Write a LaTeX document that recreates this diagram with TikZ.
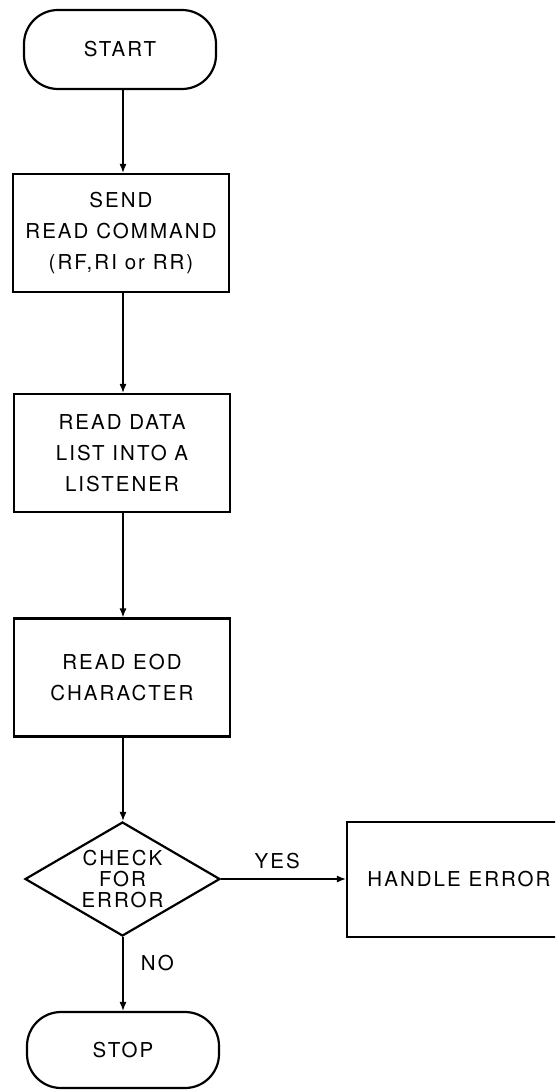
\documentclass[tikz,border=0pt]{standalone}
\usepackage{fontspec}
\usetikzlibrary{shapes.geometric,arrows.meta}
\newfontfamily\chartfont{TeX Gyre Heros}[LetterSpace=10]

\begin{document}
\begin{tikzpicture}[x=1pt, y=-1pt,
    every node/.style={font=\chartfont\fontsize{20.5}{31}\selectfont},
    terminal/.style={draw, line width=2.2pt, rounded corners=34pt, minimum width=192pt, minimum height=79pt, inner sep=0pt},
    process/.style={draw, line width=2.2pt, minimum width=216pt, minimum height=118pt, inner sep=0pt, align=center},
    decision/.style={draw, diamond, aspect=1.7, line width=2.2pt, minimum width=195pt, minimum height=114pt, inner sep=0pt, align=center,
        font=\chartfont\fontsize{20.5}{21}\selectfont},
    flow/.style={line width=1.2pt, -{Latex[length=9pt,width=7pt]}}]
            \clip (0,0) rectangle (555,1091);
            \node[terminal] (start) at (120,49.5) {START};
            \node[process] (send) at (121,233) {SEND\\READ COMMAND\\(RF,RI or RR)};
            \node[process] (readdata) at (122,453) {READ DATA\\LIST INTO A\\LISTENER};
            \node[process] (readeod) at (122,677.5) {READ EOD\\CHARACTER};
            \node[decision] (check) at (122.5,879) {CHECK\\FOR\\ERROR};
            \node[terminal, minimum height=76pt] (stop) at (123,1050) {STOP};
            \node[process, minimum width=224pt, minimum height=115pt] (handle) at (459,879.5) {HANDLE ERROR};
            \draw[flow] (start.south -| 123,0) -- (send.north -| 123,0);
            \draw[flow] (send.south -| 123,0) -- (readdata.north -| 123,0);
            \draw[flow] (readdata.south -| 123,0) -- (readeod.north -| 123,0);
            \draw[flow] (readeod.south -| 123,0) -- (check.north -| 123,0);
            \draw[flow] (check.east) -- node[above=6pt, pos=0.45] {YES} (handle.west |- check.east);
            \draw[flow] (check.south -| 123,0) -- node[right=14pt, pos=0.35] {NO} (stop.north -| 123,0);
        \end{tikzpicture}
\end{document}
